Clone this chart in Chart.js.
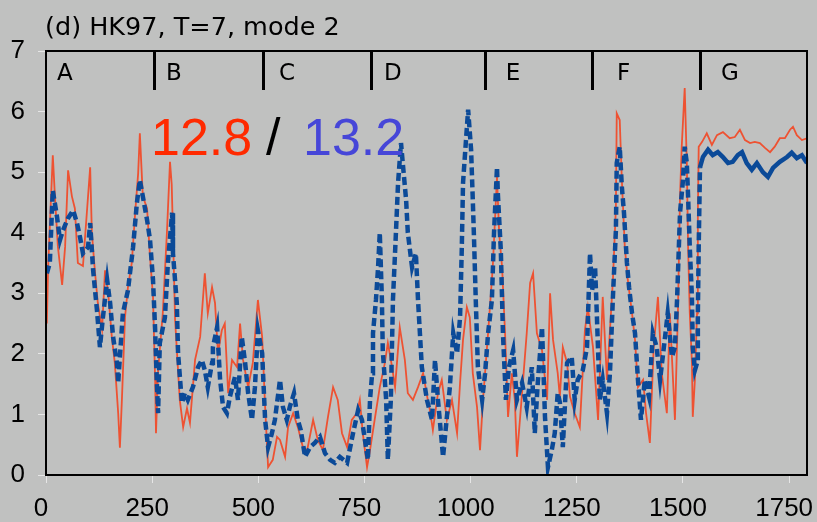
<!DOCTYPE html>
<html>
<head>
<meta charset="utf-8">
<script src="https://cdn.jsdelivr.net/npm/chart.js@4.4.1/dist/chart.umd.min.js"></script>
<style>
  html, body { margin: 0; padding: 0; background: #c0c1c0; }
  canvas { display: block; }
</style>
</head>
<body>
<canvas id="c" width="817" height="522"></canvas>
<script>
// ---- data ----
const chartTitle = "(d) HK97, T=7, mode 2";
const xTicks = [0, 250, 500, 750, 1000, 1250, 1500, 1750];
const yTicks = [0, 1, 2, 3, 4, 5, 6, 7];
const segmentBounds = [255, 511, 765, 1034, 1286, 1541];
const segmentLabels = ["A", "B", "C", "D", "E", "F", "G"];
const segmentLabelX = [28, 285, 551, 798, 1085, 1347, 1592];
const scoreRed = "12.8";
const scoreBlue = "13.2";

const redSteps = [2,5,16,21,28,38,45,52,61,68,75,87,104,108,115,122,132,139,146,155,162,170,174,179,186,193,202,210,217,221,228,238,245,252,257,259,264,275,285,292,296,299,304,315,323,332,339,351,363,374,381,391,398,405,414,421,429,438,450,457,464,476,487,499,509,516,523,534,544,551,563,570,582,593,605,615,629,640,652,664,676,687,697,709,720,732,739,746,756,763,775,786,798,805,815,822,833,845,852,864,876,888,899,904,911,923,932,944,956,968,975,982,991,998,1005,1015,1022,1029,1041,1052,1062,1067,1074,1081,1088,1097,1104,1109,1121,1132,1140,1147,1156,1168,1180,1187,1194,1205,1210,1217,1227,1234,1245,1257,1269,1276,1288,1300,1311,1321,1328,1335,1342,1344,1351,1356,1363,1370,1380,1387,1394,1406,1413,1422,1431,1441,1450,1462,1469,1481,1488,1493,1497,1504,1509,1512,1516,1521,1523,1528,1533,1535,1537,1545,1556,1568,1580,1594,1610,1622,1634,1646,1658,1669,1681,1693,1705,1716,1728,1740,1752,1759,1768,1780,1792];
const redValues = [2.5,3.43,5.28,4.6,3.77,3.14,3.77,5.03,4.6,4.4,3.5,3.45,5.08,4.0,3.38,2.84,2.4,3.38,3.05,2.28,1.85,1.02,0.45,1.29,2.6,3.1,3.5,4.33,4.98,5.64,4.6,4.4,3.6,2.94,1.57,0.69,1.73,2.67,4.04,5.17,4.8,4.0,2.56,1.24,0.79,1.1,0.86,1.9,2.28,3.33,2.67,3.1,2.84,2.01,2.39,2.5,1.35,1.9,1.78,2.5,1.9,1.45,1.85,2.89,2.28,1.12,0.13,0.25,0.63,0.58,0.3,0.79,1.02,0.79,0.46,0.41,0.91,0.58,0.41,0.96,1.45,1.24,0.69,0.46,0.91,1.02,1.24,0.69,0.13,0.41,0.96,1.45,1.85,2.18,1.78,1.45,2.44,1.9,1.35,1.24,1.45,1.68,1.24,1.07,0.74,1.35,1.57,0.91,1.24,0.69,1.52,2.23,2.77,2.6,1.68,1.12,0.41,1.24,2.34,3.43,4.92,4.0,3.43,2.34,0.96,1.68,1.24,0.3,1.35,2.34,3.17,3.33,2.34,2.06,1.24,3.0,2.23,1.68,1.29,2.11,1.85,1.29,1.02,0.79,2.39,2.77,2.11,0.91,2.94,1.57,2.39,3.22,4.42,5.97,5.86,4.87,3.76,3.22,2.67,2.23,1.45,1.57,1.02,0.53,2.11,2.94,1.68,1.02,2.67,0.91,2.67,4.6,5.42,6.39,5.15,3.76,2.67,1.85,0.96,1.57,2.67,4.33,5.42,5.5,5.64,5.45,5.61,5.66,5.56,5.58,5.7,5.53,5.48,5.5,5.48,5.4,5.33,5.42,5.56,5.56,5.7,5.75,5.61,5.53,5.56];

const blueSteps = [2,9,16,26,33,40,52,64,73,80,87,99,104,111,120,127,134,144,151,158,167,170,174,181,193,205,214,221,228,238,245,252,257,261,264,268,280,287,297,299,308,311,320,327,334,346,358,367,374,381,391,393,403,410,417,426,433,445,452,461,469,476,485,492,499,509,516,523,532,539,551,558,567,574,584,593,600,610,622,633,645,657,669,680,692,709,723,735,744,751,758,763,768,770,777,782,786,791,793,801,805,812,817,824,829,836,841,848,852,862,871,876,885,897,909,916,923,935,944,951,959,968,975,979,982,989,994,1001,1005,1008,1012,1017,1027,1034,1041,1050,1055,1062,1064,1071,1076,1083,1090,1100,1109,1121,1132,1144,1151,1158,1168,1175,1182,1191,1198,1205,1210,1217,1227,1238,1245,1252,1264,1274,1281,1286,1293,1297,1304,1311,1321,1328,1335,1342,1344,1351,1356,1361,1368,1373,1380,1387,1394,1401,1410,1420,1429,1438,1446,1457,1464,1474,1481,1486,1493,1500,1504,1509,1512,1516,1521,1523,1528,1533,1535,1537,1540,1547,1559,1570,1582,1594,1606,1617,1629,1639,1650,1662,1674,1688,1700,1712,1728,1745,1756,1768,1780,1792];
const blueValues = [3.33,3.5,4.7,4.26,3.88,4.04,4.24,4.37,4.16,3.93,3.66,3.76,4.16,3.38,2.72,2.11,2.6,3.22,2.84,2.28,1.85,1.52,1.95,2.67,3.05,3.76,4.49,4.87,4.6,4.21,3.88,3.22,2.4,1.52,1.02,2.18,2.6,3.5,4.33,3.66,2.84,2.01,1.19,1.35,1.24,1.45,1.78,1.9,1.73,1.45,1.85,2.11,2.44,1.57,1.12,1.02,1.29,1.62,1.24,2.28,1.85,1.35,0.91,1.45,2.39,2.01,0.91,0.46,0.69,0.91,1.57,1.12,0.91,1.12,1.35,0.91,0.74,0.3,0.46,0.53,0.63,0.36,0.25,0.2,0.3,0.2,0.69,1.07,0.91,0.58,0.25,1.24,1.68,2.34,2.89,3.43,4.0,2.89,2.06,1.24,0.25,1.24,2.89,4.0,4.82,5.48,5.08,4.54,4.0,3.43,3.66,2.89,1.78,1.24,0.91,1.9,1.24,0.3,0.96,1.45,2.34,2.01,2.6,3.71,4.82,5.53,6.03,5.37,4.54,3.88,2.89,1.78,1.24,1.68,2.34,2.89,4.0,5.08,4.65,3.71,2.34,1.24,1.78,2.06,1.24,1.52,1.12,1.78,0.69,1.52,2.44,0.96,0.13,0.41,0.69,1.35,1.2,0.46,1.85,1.95,1.24,1.57,1.73,2.11,3.66,3.05,3.43,2.67,1.24,1.57,1.02,1.68,2.94,4.04,5.15,5.42,4.76,4.33,3.5,3.1,2.67,2.34,1.57,0.91,1.57,1.29,2.34,2.11,1.57,2.23,2.67,1.95,2.11,2.89,4.33,4.87,5.42,5.15,4.6,3.76,2.94,2.11,1.73,1.85,2.67,3.76,5.08,5.25,5.37,5.28,5.33,5.25,5.15,5.17,5.28,5.33,5.15,5.04,5.15,5.0,4.92,5.07,5.17,5.25,5.32,5.23,5.28,5.15];

// ---- build datasets ----
const toPoints = (xs, ys) => xs.map((x, i) => ({ x: x, y: ys[i] }));

const overlay = {
  id: 'overlay',
  beforeDraw(chart) {
    const ctx = chart.ctx;
    ctx.save();
    ctx.fillStyle = '#c0c1c0';
    ctx.fillRect(0, 0, chart.width, chart.height);
    ctx.restore();
  },
  afterDatasetsDraw(chart) {
    const { ctx, chartArea: a, scales: { x } } = chart;
    ctx.save();
    ctx.strokeStyle = '#000';
    ctx.lineWidth = 2;
    ctx.strokeRect(a.left, a.top, a.right - a.left, a.bottom - a.top);
    ctx.lineWidth = 3;
    segmentBounds.forEach(b => {
      const px = Math.round(x.getPixelForValue(b)) + 0.5;
      ctx.beginPath();
      ctx.moveTo(px, a.top);
      ctx.lineTo(px, a.top + 39);
      ctx.stroke();
    });
    ctx.fillStyle = '#000';
    ctx.font = '23px "DejaVu Sans"';
    ctx.textBaseline = 'alphabetic';
    ctx.textAlign = 'left';
    segmentLabels.forEach((l, i) => {
      ctx.fillText(l, x.getPixelForValue(segmentLabelX[i]) - 1, a.top + 29);
    });
    ctx.font = '52px "Liberation Sans"';
    ctx.fillStyle = '#ff2a00';
    ctx.fillText(scoreRed, 151, 155);
    ctx.fillStyle = '#000';
    ctx.fillText('/', 266, 155);
    ctx.fillStyle = '#4646d8';
    ctx.fillText(scoreBlue, 303, 155);
    ctx.restore();
  },
  afterDraw(chart) {
    const ctx = chart.ctx;
    ctx.save();
    ctx.fillStyle = '#000';
    ctx.font = '25.5px "DejaVu Sans"';
    ctx.textBaseline = 'alphabetic';
    ctx.textAlign = 'left';
    ctx.fillText(chartTitle, 45, 35);
    ctx.restore();
  }
};

new Chart(document.getElementById('c'), {
  type: 'scatter',
  data: {
    datasets: [
      {
        label: 'mode 2 (blue)',
        data: toPoints(blueSteps, blueValues),
        showLine: true,
        borderColor: '#0b4a98',
        borderWidth: 4.5,
        borderDash: [],
        pointRadius: 0,
        tension: 0,
        segment: {
          borderDash: c => (c.p0.parsed.x < 1538 ? [8, 4] : undefined)
        }
      },
      {
        label: 'mode 2 (red)',
        data: toPoints(redSteps, redValues),
        showLine: true,
        borderColor: '#ee5232',
        borderWidth: 1.8,
        pointRadius: 0,
        tension: 0
      }
    ]
  },
  options: {
    responsive: false,
    animation: false,
    events: [],
    layout: { padding: { top: 51, right: 10, left: 0, bottom: 0 } },
    plugins: { legend: { display: false }, tooltip: { enabled: false }, title: { display: false } },
    scales: {
      x: {
        type: 'linear',
        min: 0,
        max: 1792,
        afterFit: s => { s.height = 47; s.paddingLeft = 0; s.paddingRight = 0; },
        afterBuildTicks: s => { s.ticks = xTicks.map(v => ({ value: v })); },
        grid: { drawOnChartArea: false, drawTicks: true, tickLength: 8, color: '#e6e6e6' },
        border: { display: false },
        ticks: {
          color: '#000',
          font: { family: '"Liberation Sans"', size: 26 },
          padding: 10,
          labelOffset: -5,
          maxRotation: 0,
          autoSkip: false,
          callback: v => String(v)
        }
      },
      y: {
        min: 0,
        max: 7,
        afterFit: s => { s.width = 46; s.paddingTop = 0; s.paddingBottom = 0; },
        afterBuildTicks: s => { s.ticks = yTicks.map(v => ({ value: v })); },
        grid: { drawOnChartArea: false, drawTicks: true, tickLength: 8, color: '#e6e6e6' },
        border: { display: false },
        ticks: {
          color: '#000',
          font: { family: '"Liberation Sans"', size: 26 },
          padding: 13,
          callback: v => String(v)
        }
      }
    }
  },
  plugins: [overlay]
});
</script>
</body>
</html>
